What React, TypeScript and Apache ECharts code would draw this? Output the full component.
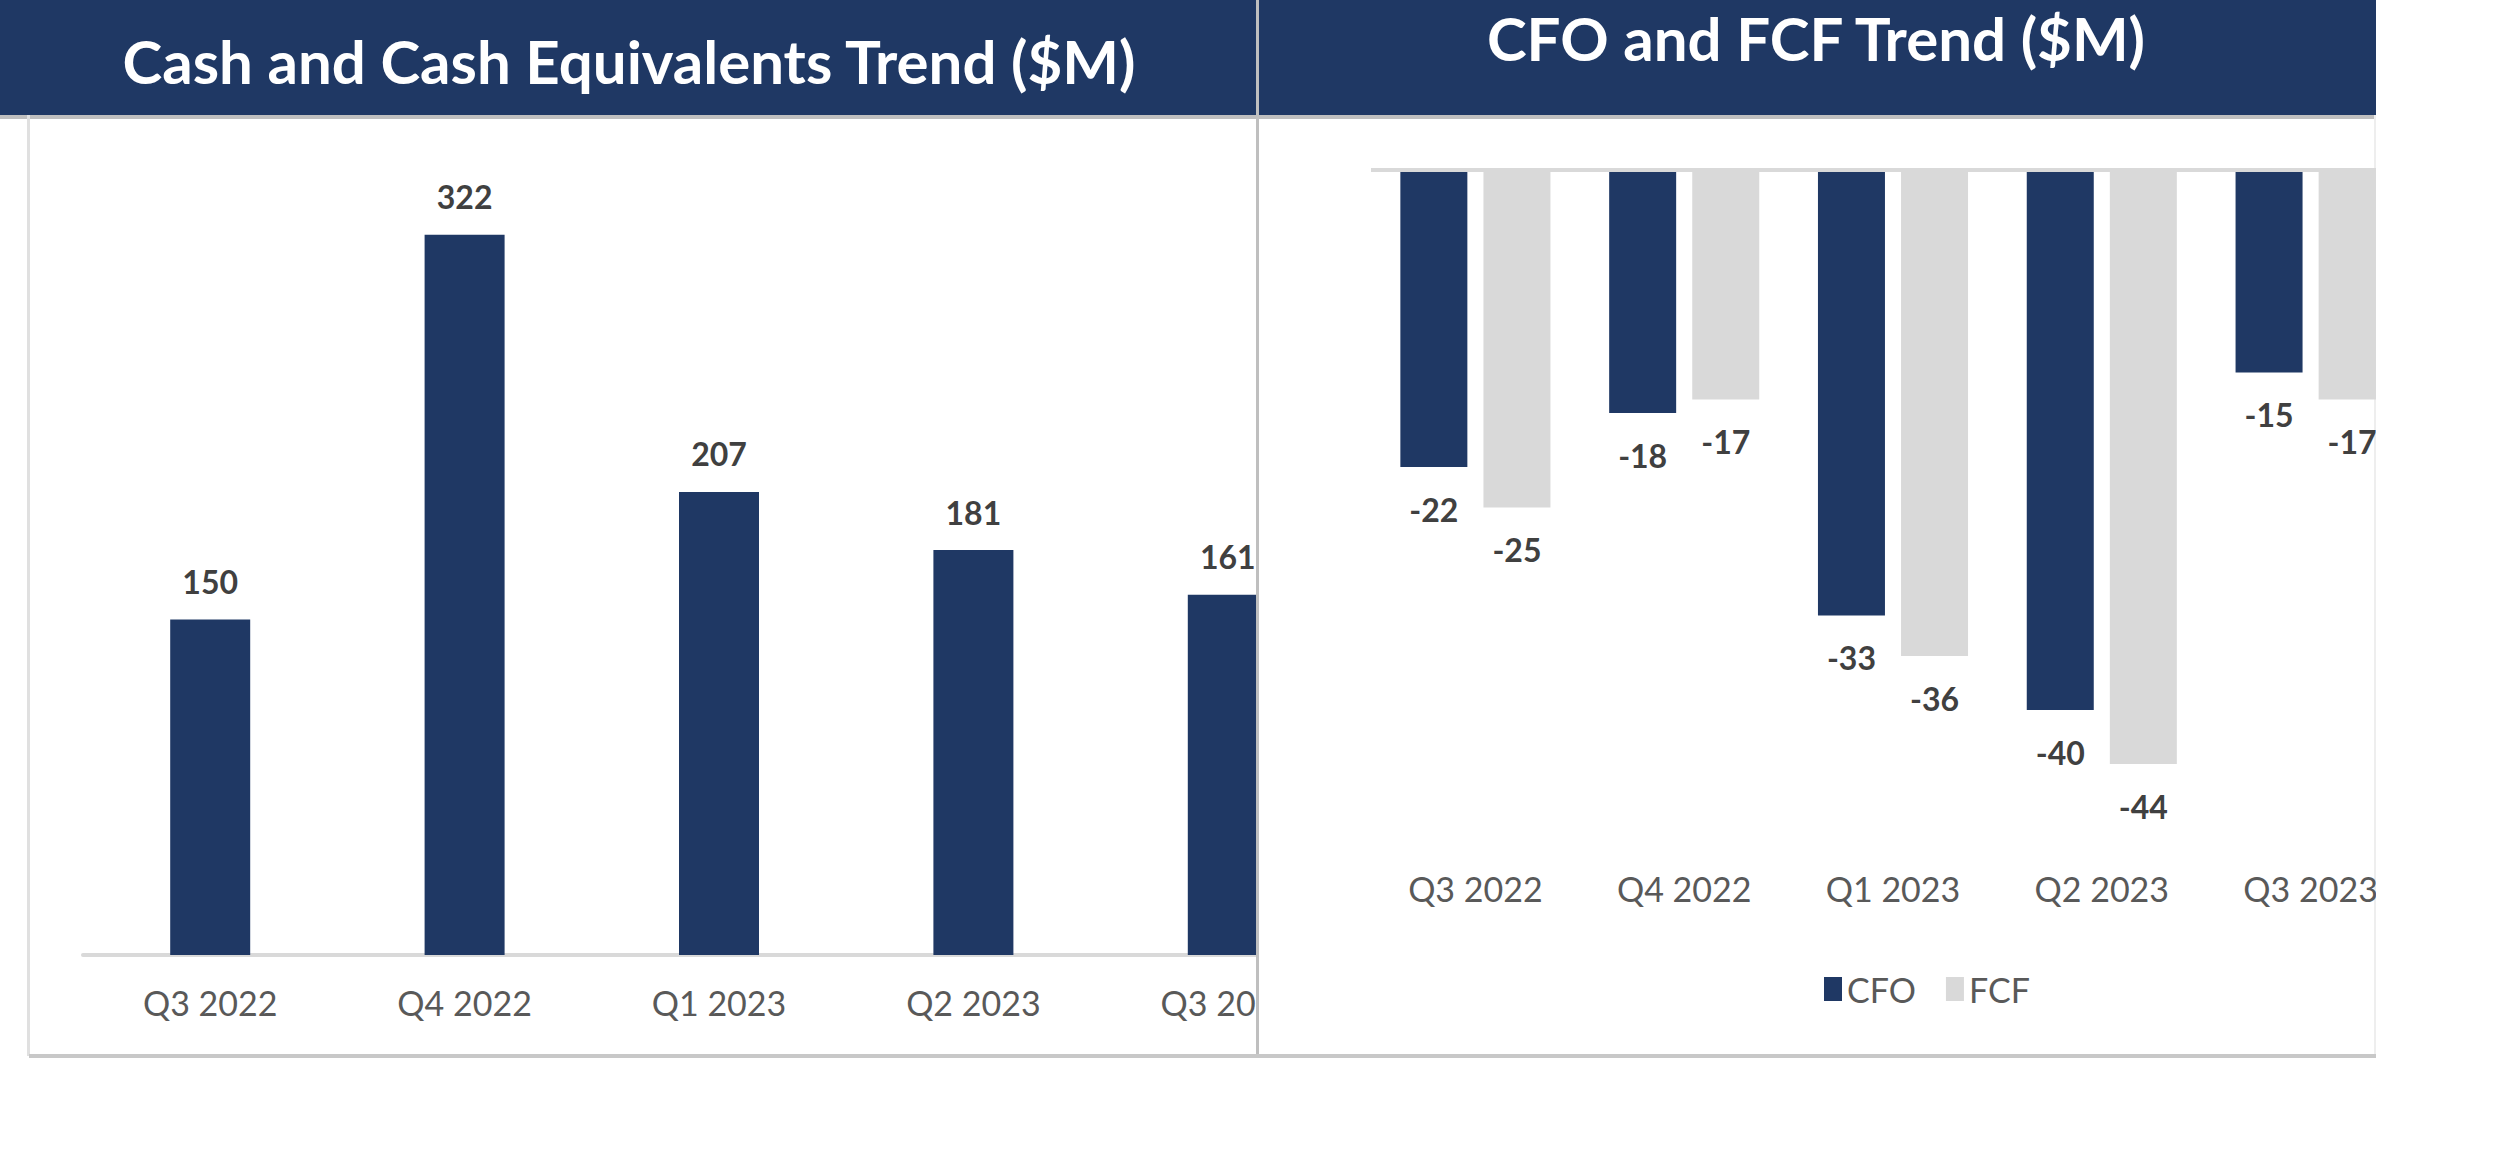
import React, { useEffect, useRef } from "react";
import * as echarts from "echarts";

const categories = ["Q3 2022", "Q4 2022", "Q1 2023", "Q2 2023", "Q3 2023"];
const cashValues = [150, 322, 207, 181, 161];
const cfoValues = [-22, -18, -33, -40, -15];
const fcfValues = [-25, -17, -36, -44, -17];

const NAVY = "#1F3864";
const GREY = "#D9D9D9";
const FONT = "Lato, 'DejaVu Sans', sans-serif";

function Chart({ option, style }: { option: any; style: React.CSSProperties }) {
  const ref = useRef<HTMLDivElement>(null);
  useEffect(() => {
    const c = echarts.init(ref.current!, null, { renderer: "svg" });
    c.setOption(option);
    return () => c.dispose();
  }, []);
  return <div ref={ref} style={style} />;
}

const leftOption = {
  animation: false,
  grid: { left: 83, width: 1272, top: 172, bottom: 101, containLabel: false },
  xAxis: {
    type: "category",
    data: categories,
    axisTick: { show: false },
    axisLine: { lineStyle: { color: "#D9D9D9", width: 4 } },
    axisLabel: { color: "#595959", fontSize: 34, fontFamily: FONT, margin: 30 },
  },
  yAxis: { type: "value", min: 0, max: 350, show: false, splitLine: { show: false } },
  series: [
    {
      type: "bar",
      data: cashValues,
      barWidth: 80,
      itemStyle: { color: NAVY },
      label: { show: true, position: "top", distance: 22, color: "#404040", fontSize: 32, fontWeight: "bold", fontFamily: FONT },
    },
  ],
};

const rightOption = {
  animation: false,
  grid: { left: 112, width: 1044, top: 170, height: 675 },
  legend: {
    data: ["CFO", "FCF"],
    left: 560,
    top: 967,
    itemWidth: 18,
    itemHeight: 24,
    itemGap: 30,
    icon: "rect",
    textStyle: { color: "#595959", fontSize: 34, fontFamily: FONT },
  },
  xAxis: {
    type: "category",
    data: categories,
    position: "bottom",
    axisTick: { show: false },
    axisLine: { show: false },
    axisLabel: { color: "#595959", fontSize: 34, fontFamily: FONT, margin: 26 },
  },
  yAxis: { type: "value", min: -50, max: 0, show: false, splitLine: { show: false } },
  series: [
    {
      name: "CFO",
      type: "bar",
      data: cfoValues,
      barWidth: 67,
      barGap: "24%",
      itemStyle: { color: NAVY },
      label: { show: true, position: "bottom", distance: 26, color: "#404040", fontSize: 32, fontWeight: "bold", fontFamily: FONT },
      markLine: {
        silent: true,
        symbol: "none",
        label: { show: false },
        lineStyle: { color: "#D9D9D9", width: 4, type: "solid" },
        data: [{ yAxis: 0 }],
      },
    },
    {
      name: "FCF",
      type: "bar",
      data: fcfValues,
      barWidth: 67,
      itemStyle: { color: GREY },
      label: { show: true, position: "bottom", distance: 26, color: "#404040", fontSize: 32, fontWeight: "bold", fontFamily: FONT },
    },
  ],
};

const titleStyle: React.CSSProperties = {
  position: "absolute",
  color: "#fff",
  fontFamily: FONT,
  fontWeight: "bold",
  fontSize: 60,
  whiteSpace: "nowrap",
  transform: "translate(-50%,-50%)",
};

export default function App() {
  return (
    <div style={{ position: "absolute", left: 0, top: 0, width: 2500, height: 1169, background: "#fff", overflow: "hidden" }}>
      <div style={{ position: "absolute", left: 0, top: 0, width: 1256, height: 115, background: NAVY }} />
      <div style={{ ...titleStyle, left: 629, top: 61 }}>Cash and Cash Equivalents Trend ($M)</div>
      <div style={{ position: "absolute", left: 0, top: 115, width: 1256, height: 4, background: "#BFBFBF" }} />
      <div style={{ position: "absolute", left: 27, top: 115, width: 3, height: 941, background: "#E0E0E0" }} />
      <div style={{ position: "absolute", left: 0, top: 0, width: 1256, height: 1056, overflow: "hidden" }}>
        <Chart option={leftOption} style={{ position: "absolute", left: 0, top: 0, width: 1360, height: 1056 }} />
      </div>
      <div style={{ position: "absolute", left: 1256, top: 0, width: 3, height: 1056, background: "#BFBFBF" }} />
      <div style={{ position: "absolute", left: 1259, top: 0, width: 1117, height: 115, background: NAVY }} />
      <div style={{ ...titleStyle, left: 1816, top: 38 }}>CFO and FCF Trend ($M)</div>
      <div style={{ position: "absolute", left: 1259, top: 115, width: 1117, height: 4, background: "#BFBFBF" }} />
      <div style={{ position: "absolute", left: 2374, top: 115, width: 2, height: 941, background: "#EEEEEE" }} />
      <div style={{ position: "absolute", left: 1259, top: 0, width: 1117, height: 1056, overflow: "hidden" }}>
        <Chart option={rightOption} style={{ position: "absolute", left: 0, top: 0, width: 1300, height: 1056 }} />
      </div>
      <div style={{ position: "absolute", left: 29, top: 1054, width: 2347, height: 4, background: "#C8C8C8" }} />
    </div>
  );
}
